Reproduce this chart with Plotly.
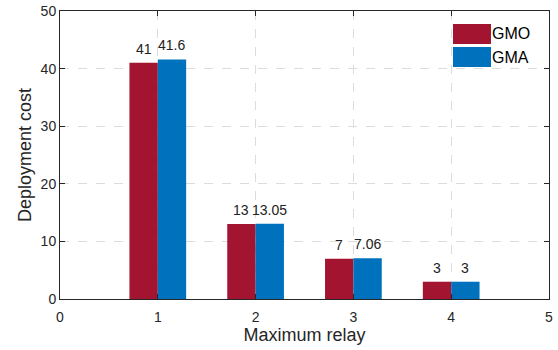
import plotly.graph_objects as go

relays = [1, 2, 3, 4]
gmo = [41, 13, 7, 3]
gma = [41.6, 13.05, 7.06, 3]
gmo_labels = ["41", "13", "7", "3"]
gma_labels = ["41.6", "13.05", "7.06", "3"]
x_ticks = [0, 1, 2, 3, 4, 5]
y_ticks = [0, 10, 20, 30, 40, 50]

C_GMO = "#A2142F"
C_GMA = "#0072BD"
FONT = "Liberation Sans, Arial, sans-serif"
BAR_HALF = 0.145  # half of one bar's width in x units (bargap 0.42, two bars)

fig = go.Figure()
fig.add_trace(go.Bar(x=relays, y=gmo, name="GMO", marker=dict(color=C_GMO, line=dict(width=0)),
                     showlegend=False))
fig.add_trace(go.Bar(x=relays, y=gma, name="GMA", marker=dict(color=C_GMA, line=dict(width=0)),
                     showlegend=False))

for series, labels, sign in [(gmo, gmo_labels, -1), (gma, gma_labels, 1)]:
    for xv, yv, lab in zip(relays, series, labels):
        fig.add_annotation(x=xv + sign * BAR_HALF, y=yv, xref="x", yref="y", text=lab,
                           showarrow=False, xanchor="center", yanchor="bottom", yshift=4,
                           font=dict(size=14, color="#222", family=FONT))

axis_common = dict(showline=True, linecolor="#262626", linewidth=1, mirror="ticks",
                   ticks="inside", ticklen=5, tickcolor="#262626", automargin=False,
                   showgrid=True, gridcolor="#DCDCDC", griddash="dash", gridwidth=1,
                   zeroline=False, tickfont=dict(size=14, color="#262626", family=FONT))

fig.update_layout(
    width=558, height=350,
    margin=dict(l=60, r=9, t=11, b=51),
    plot_bgcolor="white", paper_bgcolor="white",
    barmode="group", bargap=0.42, bargroupgap=0,
    font=dict(family=FONT, color="#262626"),
    xaxis=dict(range=[0, 5], tickvals=x_ticks, ticklabelstandoff=5,
               title=dict(text="Maximum relay", font=dict(size=18), standoff=3), **axis_common),
    yaxis=dict(range=[0, 50], tickvals=y_ticks,
               title=dict(text="Deployment cost", font=dict(size=18), standoff=4), **axis_common),
)

# custom legend (top-right, inside)
legend_items = [("GMO", C_GMO), ("GMA", C_GMA)]
x0, x1 = (453 - 60) / 489, (491 - 60) / 489
for i, (name, col) in enumerate(legend_items):
    ytop = 1 - (13 + i * 23) / 288
    ybot = ytop - 20 / 288
    fig.add_shape(type="rect", xref="paper", yref="paper", x0=x0, x1=x1, y0=ybot, y1=ytop,
                  fillcolor=col, line=dict(width=0))
    fig.add_annotation(xref="paper", yref="paper", x=x1 - 0.002, y=(ytop + ybot) / 2,
                       text=name, showarrow=False, xanchor="left", yanchor="middle",
                       font=dict(size=16, color="#000", family=FONT))

fig.write_html("out.html")
